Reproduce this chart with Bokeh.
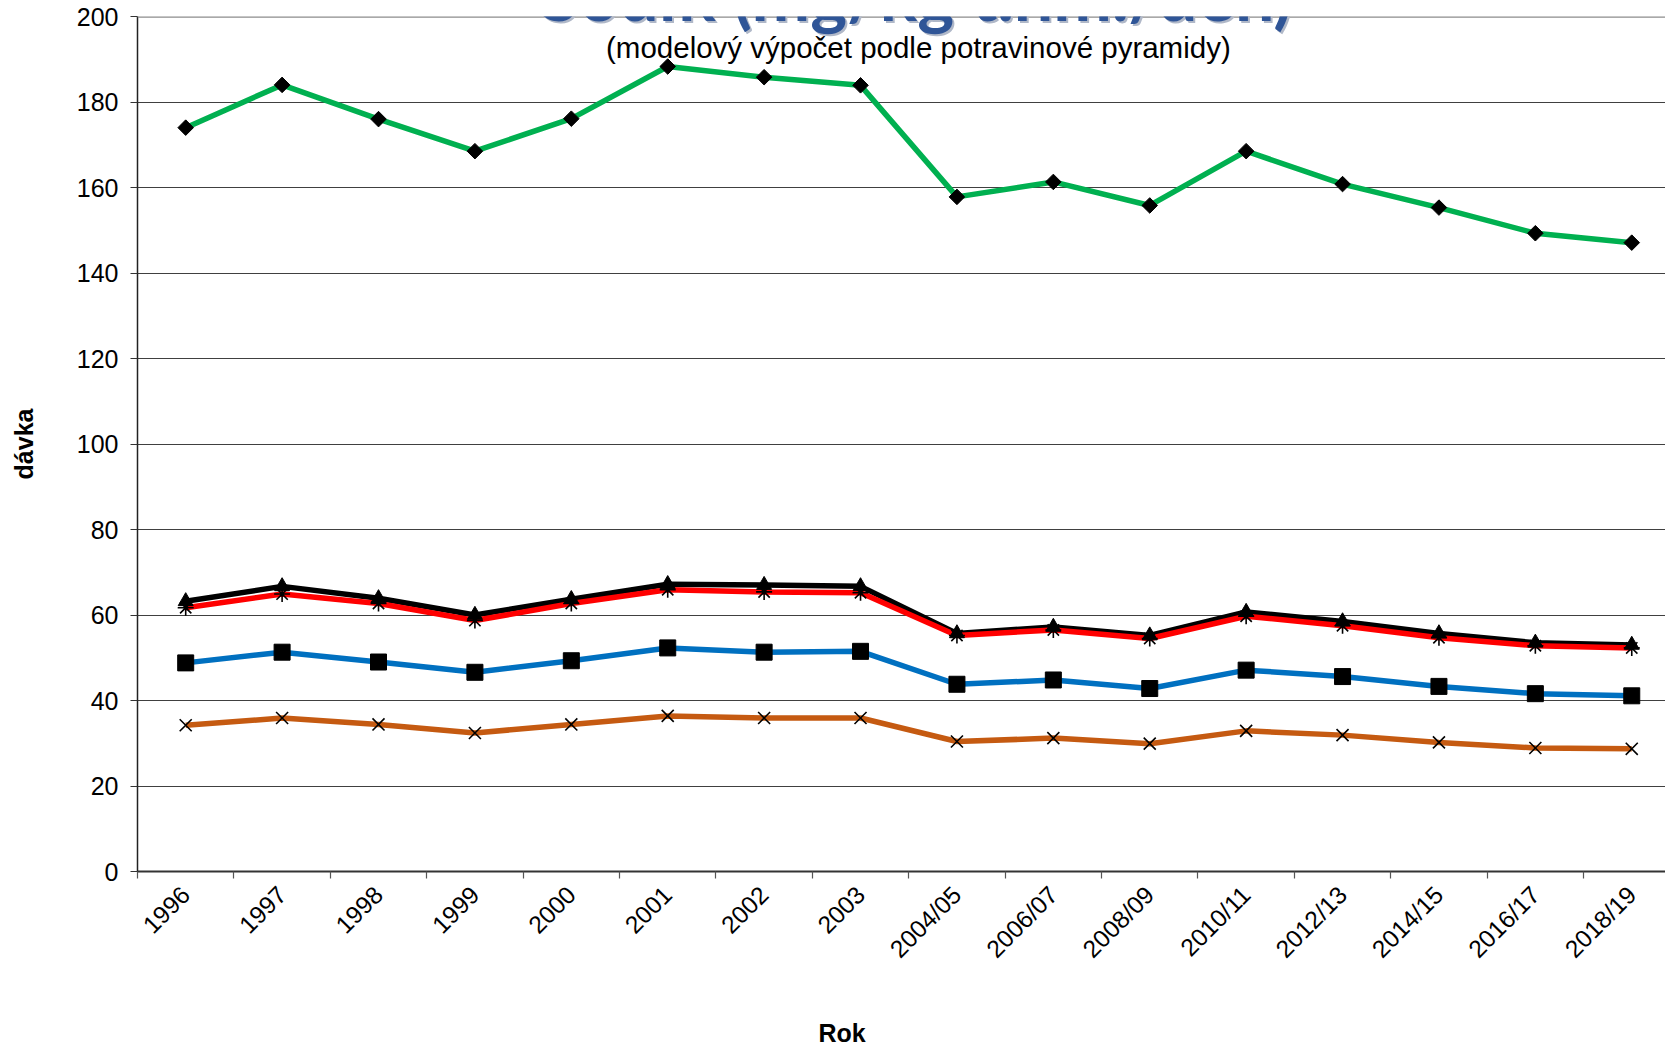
import math
from bokeh.plotting import figure
from bokeh.models import Range1d, FixedTicker, Label, Span, Title
from bokeh.embed import file_html
from bokeh.resources import INLINE

# Survey periods (categories on the x axis)
periods = ["1996", "1997", "1998", "1999", "2000", "2001", "2002", "2003",
           "2004/05", "2006/07", "2008/09", "2010/11", "2012/13", "2014/15",
           "2016/17", "2018/19"]

# Sodium intake per population group (mg/kg body weight/day)
green_vals = [174.0, 184.0, 176.0, 168.5, 176.1, 188.3, 185.8, 183.9,
              157.8, 161.3, 155.8, 168.5, 160.8, 155.3, 149.3, 147.1]
black_vals = [63.2, 66.7, 63.9, 60.0, 63.7, 67.2, 67.0, 66.7,
              55.7, 57.2, 55.2, 60.7, 58.5, 55.7, 53.5, 53.0]
red_vals = [61.7, 64.9, 62.7, 58.7, 62.7, 65.9, 65.4, 65.2,
            55.2, 56.5, 54.5, 59.7, 57.5, 54.7, 52.8, 52.3]
blue_vals = [48.8, 51.3, 49.0, 46.6, 49.3, 52.3, 51.3, 51.5,
             43.8, 44.8, 42.8, 47.1, 45.6, 43.3, 41.6, 41.1]
orange_vals = [34.2, 35.9, 34.4, 32.4, 34.4, 36.4, 35.9, 35.9,
               30.4, 31.2, 29.9, 32.9, 31.9, 30.2, 28.9, 28.7]

y_ticks = list(range(0, 201, 20))

title_text = "Sodík (mg/kg t.hm./den)"
subtitle_text = "(modelový výpočet podle potravinové pyramidy)"
x_title = "Rok"
y_title = "dávka"

# category centres and boundaries on a numeric axis
xs = [i + 0.5 for i in range(len(periods))]
bounds = list(range(len(periods) + 1))

FONT = "Liberation Sans"

p = figure(width=1665, height=1052, output_backend="svg", toolbar_location=None,
           x_range=Range1d(0, 15.85), y_range=Range1d(0, 200),
           min_border_left=137, min_border_right=0, min_border_top=16,
           min_border_bottom=180)
p.outline_line_color = None
p.background_fill_color = "white"
p.border_fill_color = "white"

# y axis
p.yaxis.ticker = FixedTicker(ticks=y_ticks)
p.yaxis.axis_label = y_title
p.yaxis.axis_label_text_font = FONT
p.yaxis.axis_label_text_font_style = "bold"
p.yaxis.axis_label_text_font_size = "25px"
p.yaxis.axis_label_text_color = "black"
p.yaxis.axis_label_standoff = 36
p.yaxis.major_label_text_font = FONT
p.yaxis.major_label_text_font_size = "25px"
p.yaxis.major_label_text_color = "black"
p.yaxis.major_label_standoff = 12
p.yaxis.major_tick_out = 7
p.yaxis.major_tick_in = 0
p.yaxis.major_tick_line_color = "#333333"
p.yaxis.minor_tick_line_color = None
p.yaxis.axis_line_color = "#222222"
p.yaxis.axis_line_width = 1.5

# x axis: labels at category centres, tick marks at boundaries
p.xaxis.ticker = FixedTicker(ticks=xs, minor_ticks=bounds)
p.xaxis.major_label_overrides = {x: lab for x, lab in zip(xs, periods)}
p.xaxis.major_label_orientation = math.pi / 4
p.xaxis.major_label_text_font = FONT
p.xaxis.major_label_text_font_size = "24.5px"
p.xaxis.major_label_text_color = "black"
p.xaxis.major_label_standoff = 12
p.xaxis.major_tick_line_color = None
p.xaxis.minor_tick_out = 7
p.xaxis.minor_tick_in = 0
p.xaxis.minor_tick_line_color = "#555555"
p.xaxis.minor_tick_line_width = 1.2
p.xaxis.axis_line_color = "#333333"
p.xaxis.axis_line_width = 2

# blank spacer panel, then the x axis title under the tick labels
p.add_layout(Title(text=" ", standoff=5, text_font=FONT, text_font_size="25px"), "below")
p.add_layout(Title(text=x_title, align="left", offset=681, standoff=12,
                   text_font=FONT, text_font_style="bold", text_font_size="25px",
                   text_color="black"), "below")

# grid
p.xgrid.grid_line_color = None
p.ygrid.grid_line_color = "#404040"
p.ygrid.grid_line_width = 1
p.add_layout(Span(location=200, dimension="width", line_color="#8c8c8c", line_width=2.5))

# series lines
LW = 5.5
p.line(xs, orange_vals, line_color="#C55A11", line_width=LW)
p.line(xs, blue_vals, line_color="#0070C0", line_width=LW)
p.line(xs, black_vals, line_color="#000000", line_width=LW)
p.line(xs, red_vals, line_color="#FF0000", line_width=LW)
p.line(xs, green_vals, line_color="#00B050", line_width=LW)

# series markers
p.scatter(xs, orange_vals, marker="x", size=17, line_color="black", line_width=1.6)
p.scatter(xs, blue_vals, marker="square", size=16, fill_color="black", line_color="black")
p.scatter(xs, black_vals, marker="triangle", size=15, fill_color="black", line_color="black")
p.scatter(xs, red_vals, marker="asterisk", size=16, line_color="black", line_width=1.6)
p.scatter(xs, green_vals, marker="square", angle=math.pi / 4, size=11,
          fill_color="black", line_color="black")

# titles
p.add_layout(Label(x=8.08, y=205.3, text=title_text, text_align="center",
                   text_baseline="alphabetic", text_font="Lato", text_font_style="bold",
                   text_font_size="70px", text_color="#b0b8c8", x_offset=2, y_offset=-2))
p.add_layout(Label(x=8.08, y=205.3, text=title_text, text_align="center",
                   text_baseline="alphabetic", text_font="Lato", text_font_style="bold",
                   text_font_size="70px", text_color="#2F5597"))
p.add_layout(Label(x=8.10, y=192.76, text=subtitle_text, text_align="center",
                   text_baseline="middle", text_font=FONT, text_font_size="29.5px",
                   text_color="black"))

open("out.html", "w").write(file_html(p, INLINE))
